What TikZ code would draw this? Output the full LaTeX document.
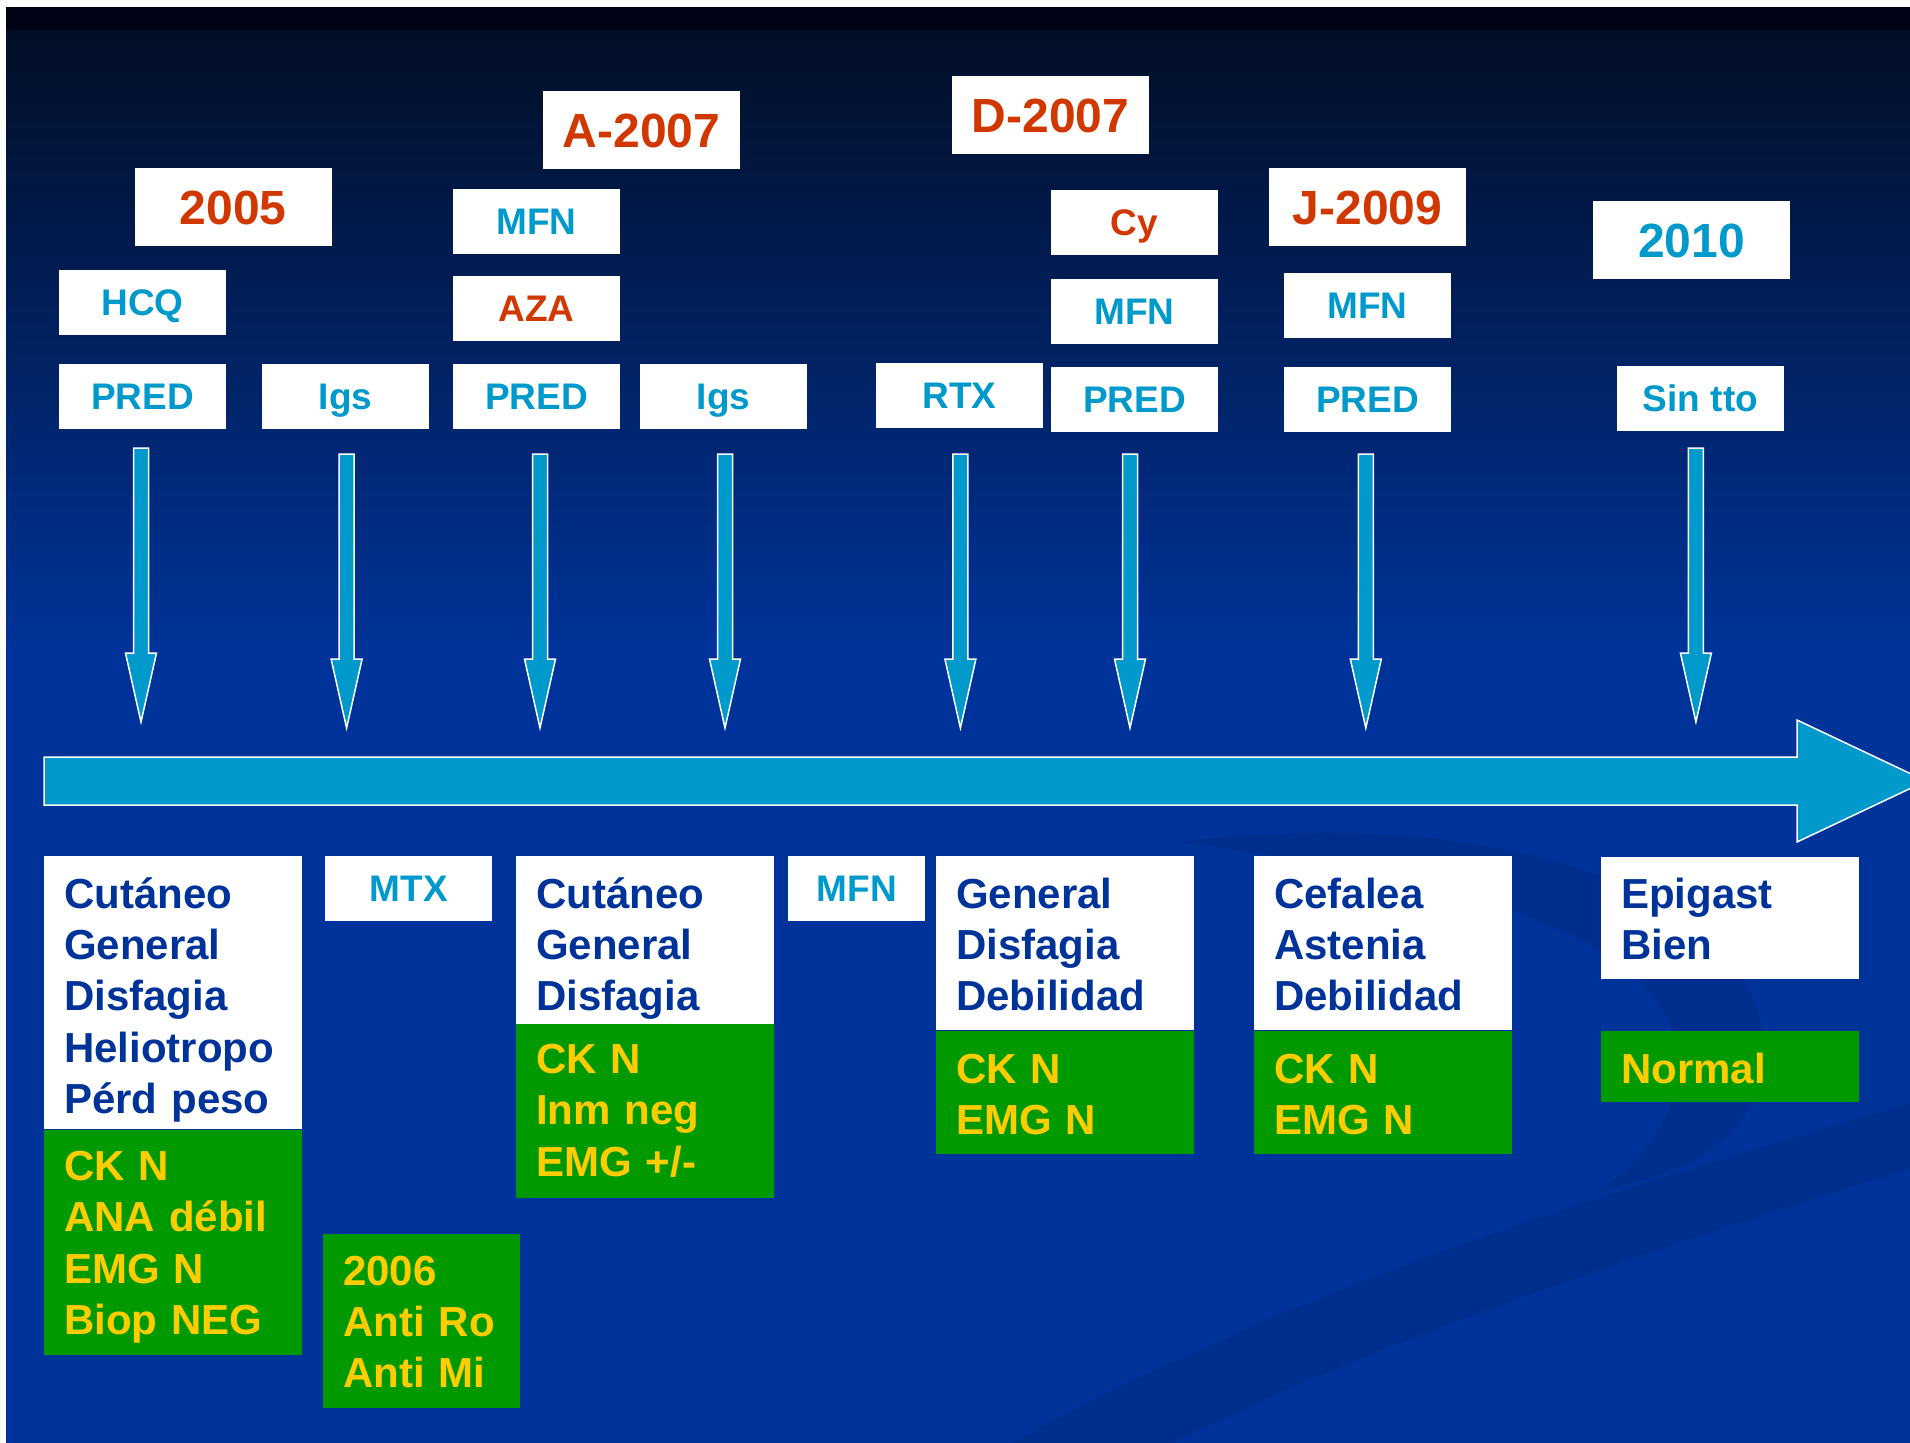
\documentclass[tikz,border=0pt]{standalone}
\usepackage{fontspec}
\setmainfont{Liberation Sans}
\usepackage{tikz}
\usetikzlibrary{positioning, calc}

\definecolor{bgblue}{RGB}{0,51,153}
\definecolor{bgtop}{RGB}{0,3,22}
\definecolor{bgdark}{RGB}{2,14,38}
\definecolor{swoosh}{RGB}{0,42,130}
\definecolor{redtxt}{RGB}{208,56,0}
\definecolor{cyantxt}{RGB}{0,153,204}
\definecolor{navytxt}{RGB}{0,51,153}
\definecolor{boxgreen}{RGB}{0,153,0}
\definecolor{yellowtxt}{RGB}{255,204,0}

\newcommand\yrfont{\fontsize{48}{58}\selectfont\bfseries}
\newcommand\tagfont{\fontsize{37}{44}\selectfont\bfseries}
\newcommand\listfont{\fontsize{42}{51.3}\selectfont\bfseries}

\begin{document}
\begin{tikzpicture}[x=1pt, y=-1pt,
     year/.style = {fill=white, text=redtxt, font=\yrfont, inner
       sep=0pt, minimum width=197pt, minimum height=78pt, text
       height=34.4pt, text depth=0pt}, % dates on top
     tag/.style = {fill=white, text=cyantxt, font=\tagfont, inner
       sep=0pt, minimum width=167pt, minimum height=65pt, text
       height=26.5pt, text depth=0pt}, % treatments
     wlist/.style = {fill=white, text=navytxt, font=\listfont,
       anchor=north west, inner xsep=20pt, inner ysep=0pt, text
       width=218pt, align=left}, % symptoms
     glist/.style = {wlist, fill=boxgreen, text=yellowtxt}, % tests
     timeline/.style = {fill=cyantxt, draw=white, line width=1.5pt},
     fatarrow/.style = {fill=cyantxt, draw=white, line width=1.5pt,
       to path={let \p1=(\tikztostart), \p2=(\tikztotarget) in
         (\x1-7.5pt,\y1) -- (\x1+7.5pt,\y1) -- (\x1+7.5pt,\y2+69pt) --
         (\x1+15.5pt,\y2+69pt) -- (\x2,\y2) -- (\x1-15.5pt,\y2+69pt) --
         (\x1-7.5pt,\y2+69pt) -- cycle}},
     ]
     \path[use as bounding box] (0,0) rectangle (1910,1442);
     \clip (0,0) rectangle (1910,1442);

     % background of the slide
     \fill[white] (-10,-10) rectangle (1920,7);
     \fill[white] (-10,-10) rectangle (6,1450);
     \fill[bgblue] (6,7) rectangle (1920,1450);
     \shade[top color=bgdark, bottom color=bgblue] (6,30) rectangle (1920,650);
     \fill[bgtop] (6,7) rectangle (1920,30);
     \fill[swoosh, opacity=0.45] (1000,1450) .. controls (1300,1280)
     and (1650,1180) .. (1920,1100) -- (1920,1165) .. controls
     (1650,1250) and (1350,1350) .. (1160,1450) -- cycle;
     \fill[swoosh, opacity=0.45] (1180,842) .. controls (1500,800) and
     (1800,900) .. (1760,1080) .. controls (1740,1160) and (1650,1180)
     .. (1600,1190) .. controls (1700,1120) and (1720,1000) ..
     (1560,930) .. controls (1450,880) and (1300,860) .. (1180,842) --
     cycle;

     % time axis
     \draw[timeline] (44,757) -- (1797,757) -- (1797,720) -- (1926,781)
     -- (1797,842) -- (1797,805) -- (44,805) -- cycle;

     \foreach \x/\t/\b [count=\i] in {141/448/722, 346.6/454/728,
       540/454/728, 725/454/728, 960.4/454/728, 1130/454/728,
       1365.8/454/728, 1695.9/448/722} {% <-- arrows to the axis
       \coordinate (top\i) at (\x,\t); \coordinate (tip\i) at (\x,\b);
       \draw[fatarrow] (top\i) to (tip\i); }

     % dates
     \node[year] (y2005) at (233.3,207) {2005};
     \node[year] (a2007) at (641.5,130.5) {A-2007};
     \node[year] (d2007) at (1050.5,115.5) {D-2007};
     \node[year] (j2009) at (1367.5,207) {J-2009};
     \node[year, text=cyantxt] (y2010) at (1691.5,240) {2010};

     % treatments
     \node[tag] (pred1) at (142.5,396.5) {PRED};
     \node[tag] (igs1) at (345.5,396.5) {Igs};
     \node[tag] (pred2) at (536.5,396.5) {PRED};
     \node[tag] (igs2) at (723.5,396.5) {Igs};
     \node[tag] (rtx) at (959.5,395.5) {RTX};
     \node[tag] (pred3) at (1134.5,399.5) {PRED};
     \node[tag] (pred4) at (1367.5,399.5) {PRED};
     \node[tag] (sintto) at (1700.5,398.5) {Sin tto};

     \node[tag, above=29pt of pred1] (hcq) {HCQ};
     \node[tag, text=redtxt, above=23pt of pred2] (aza) {AZA};
     \node[tag, above=21pt of aza] (mfn1) {MFN};
     \node[tag, above=23pt of pred3] (mfn2) {MFN};
     \node[tag, text=redtxt, above=23pt of mfn2] (cy) {Cy};
     \node[tag, above=29pt of pred4] (mfn3) {MFN};

     % symptoms and tests
     \node[wlist, text height=52pt, text depth=221pt] (sym1) at (44,856)
     {Cutáneo\\General\\Disfagia\\Heliotropo\\Pérd peso};
     \node[glist, below=0pt of sym1, text height=51pt, text depth=174pt]
     (lab1) {CK N\\ANA débil\\EMG N\\Biop NEG};
     \node[tag, anchor=north west] (mtx) at (325,856) {MTX};
     \node[glist, text width=157pt, text height=51pt, text depth=122.5pt]
     (lab2) at (323,1234) {2006\\Anti Ro\\Anti Mi};
     \node[wlist, text height=52pt, text depth=115.5pt] (sym2) at (516,856)
     {Cutáneo\\General\\Disfagia};
     \node[glist, below=0pt of sym2, text height=49.5pt, text depth=124pt]
     (lab3) {CK N\\Inm neg\\EMG +/-};
     \node[tag, anchor=north west, minimum width=137pt] (mfn4) at (788,856)
     {MFN};
     \node[wlist, text height=52pt, text depth=122pt] (sym3) at (936,856)
     {General\\Disfagia\\Debilidad};
     \node[glist, below=0pt of sym3, text height=53pt, text depth=70pt]
     (lab4) {CK N\\EMG N};
     \node[wlist, text height=52pt, text depth=122pt] (sym4) at (1254,856)
     {Cefalea\\Astenia\\Debilidad};
     \node[glist, below=0pt of sym4, text height=53pt, text depth=70pt]
     (lab5) {CK N\\EMG N};
     \node[wlist, text height=51pt, text depth=71pt] (sym5) at (1601,857)
     {Epigast\\Bien};
     \node[glist, text height=52pt, text depth=19pt] (lab6) at (1601,1031)
     {Normal};

\end{tikzpicture}
\end{document}
